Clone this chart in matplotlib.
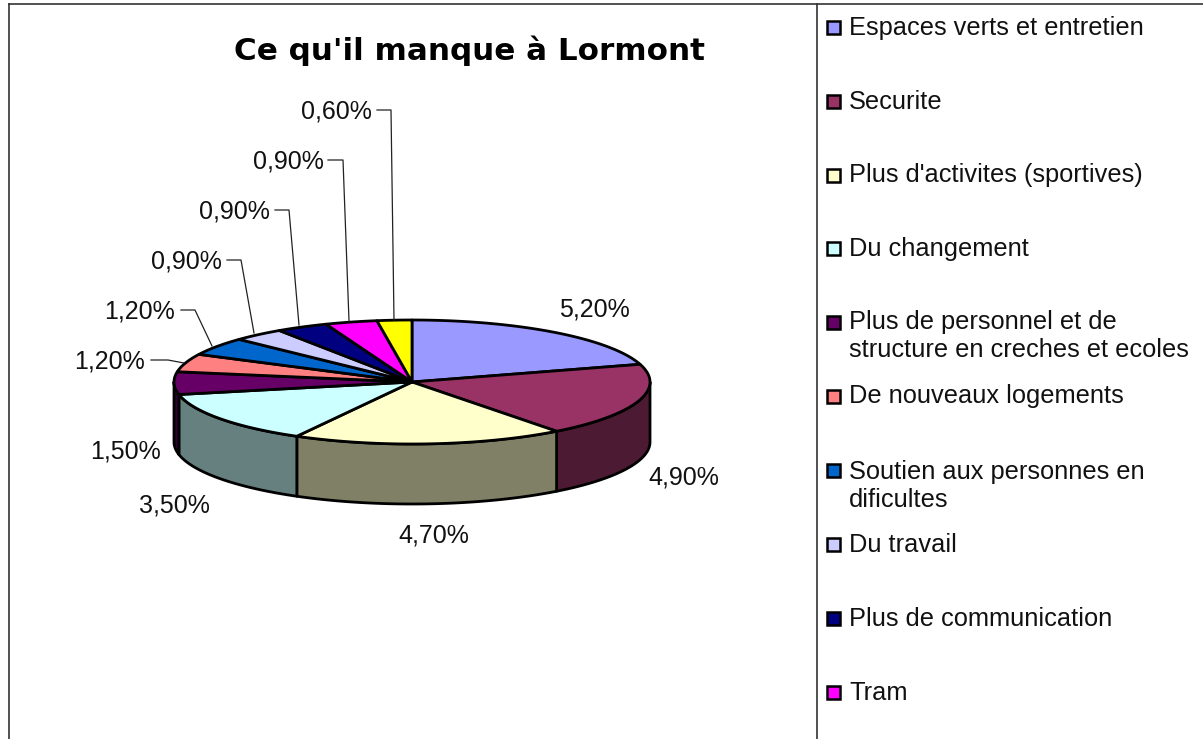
import numpy as np
import matplotlib
matplotlib.use("Agg")
import matplotlib.pyplot as plt
from matplotlib.patches import Polygon, Rectangle

plt.rcParams['font.family'] = ['Liberation Sans', 'DejaVu Sans']

title = "Ce qu'il manque à Lormont"
categories = ["Espaces verts et entretien", "Securite", "Plus d'activites (sportives)",
              "Du changement", "Plus de personnel et de\nstructure en creches et ecoles",
              "De nouveaux logements", "Soutien aux personnes en\ndificultes", "Du travail",
              "Plus de communication", "Tram", ""]
values = [5.2, 4.9, 4.7, 3.5, 1.5, 1.2, 1.2, 0.9, 0.9, 0.9, 0.6]
value_labels = ["5,20%", "4,90%", "4,70%", "3,50%", "1,50%", "1,20%", "1,20%",
                "0,90%", "0,90%", "0,90%", "0,60%"]
top_colors = ["#9999FF", "#993366", "#FFFFCC", "#CCFFFF", "#660066", "#FF8080",
              "#0066CC", "#CCCCFF", "#000080", "#FF00FF", "#FFFF00"]
wall_colors = ["#4D4D80", "#4D1A33", "#808066", "#668080", "#330033", "#804040",
               "#003366", "#666680", "#000040", "#800080", "#808000"]
label_xy = [(594, 309), (684, 477), (434, 534), (174, 505), (125, 451), (110, 361),
            (140, 311), (186, 260), (234, 210), (288, 160), (336, 110)]
leaders = {5: [(151, 360), (168, 360), (184, 363)],
           6: [(181, 310), (195, 310), (212, 346)],
           7: [(227, 260), (241, 260), (254, 333)],
           8: [(275, 210), (289, 210), (299, 325)],
           9: [(328, 160), (343, 160), (349, 321)],
           10: [(377, 110), (391, 110), (394, 320)]}
legend_y = [27, 101, 175, 248, 322, 396, 470, 544, 618, 692]
legend_text_y = [28, 102, 175, 249, 336, 396, 486, 545, 619, 693]

CX, CY, RX, RY, DEPTH = 412, 382, 238, 62, 60

fig = plt.figure(figsize=(12.03, 7.39), dpi=100)
ax = fig.add_axes([0, 0, 1, 1])
ax.set_xlim(0, 1203)
ax.set_ylim(739, 0)
ax.axis('off')

# frame
ax.plot([9, 9], [739, 4], color='#333333', lw=1.2)
ax.plot([9, 1203], [4, 4], color='#333333', lw=1.2)
ax.plot([817, 817], [4, 739], color='#333333', lw=1.2)

ax.text(470, 51, title, ha='center', va='center', fontsize=22.3, fontweight='bold',
        family=['DejaVu Sans'])

frac = np.cumsum([0] + values) / np.sum(values)
angles = 90 - 360 * frac   # degrees, clockwise from the top


def ell(a):
    r = np.radians(a)
    return CX + RX * np.cos(r), CY - RY * np.sin(r)


# side walls (front half only: angles -180..0)
for i in range(len(values)):
    a0, a1 = angles[i], angles[i + 1]
    lo = min(a0, 0)
    hi = max(a1, -180)
    if lo <= hi:
        continue
    t = np.linspace(lo, hi, 80)
    x, y = ell(t)
    pts = np.r_[np.c_[x, y], np.c_[x[::-1], y[::-1] + DEPTH]]
    ax.add_patch(Polygon(pts, closed=True, fc=wall_colors[i], ec='black', lw=2, zorder=2, joinstyle='round'))

# top faces
for i in range(len(values)):
    t = np.linspace(angles[i], angles[i + 1], 80)
    x, y = ell(t)
    pts = np.r_[[(CX, CY)], np.c_[x, y]]
    ax.add_patch(Polygon(pts, closed=True, fc=top_colors[i], ec='black', lw=2, zorder=3, joinstyle='round'))

# value labels and leaders
for lab, (x, y) in zip(value_labels, label_xy):
    ax.text(x, y + 1, lab, ha='center', va='center', fontsize=18, color='#111111', zorder=5)
for pts in leaders.values():
    p = np.array(pts)
    ax.plot(p[:, 0], p[:, 1], color='#222222', lw=0.9, zorder=4)

# legend
for cat, col, ys, yt in zip(categories, top_colors, legend_y, legend_text_y):
    ax.add_patch(Rectangle((827, ys - 6), 13, 13, fc=col, ec='black', lw=1.8, zorder=4))
    ax.text(849, yt, cat, ha='left', va='center', fontsize=18.3, linespacing=1.17, color='#111111')

fig.savefig('out.png', dpi=100)
